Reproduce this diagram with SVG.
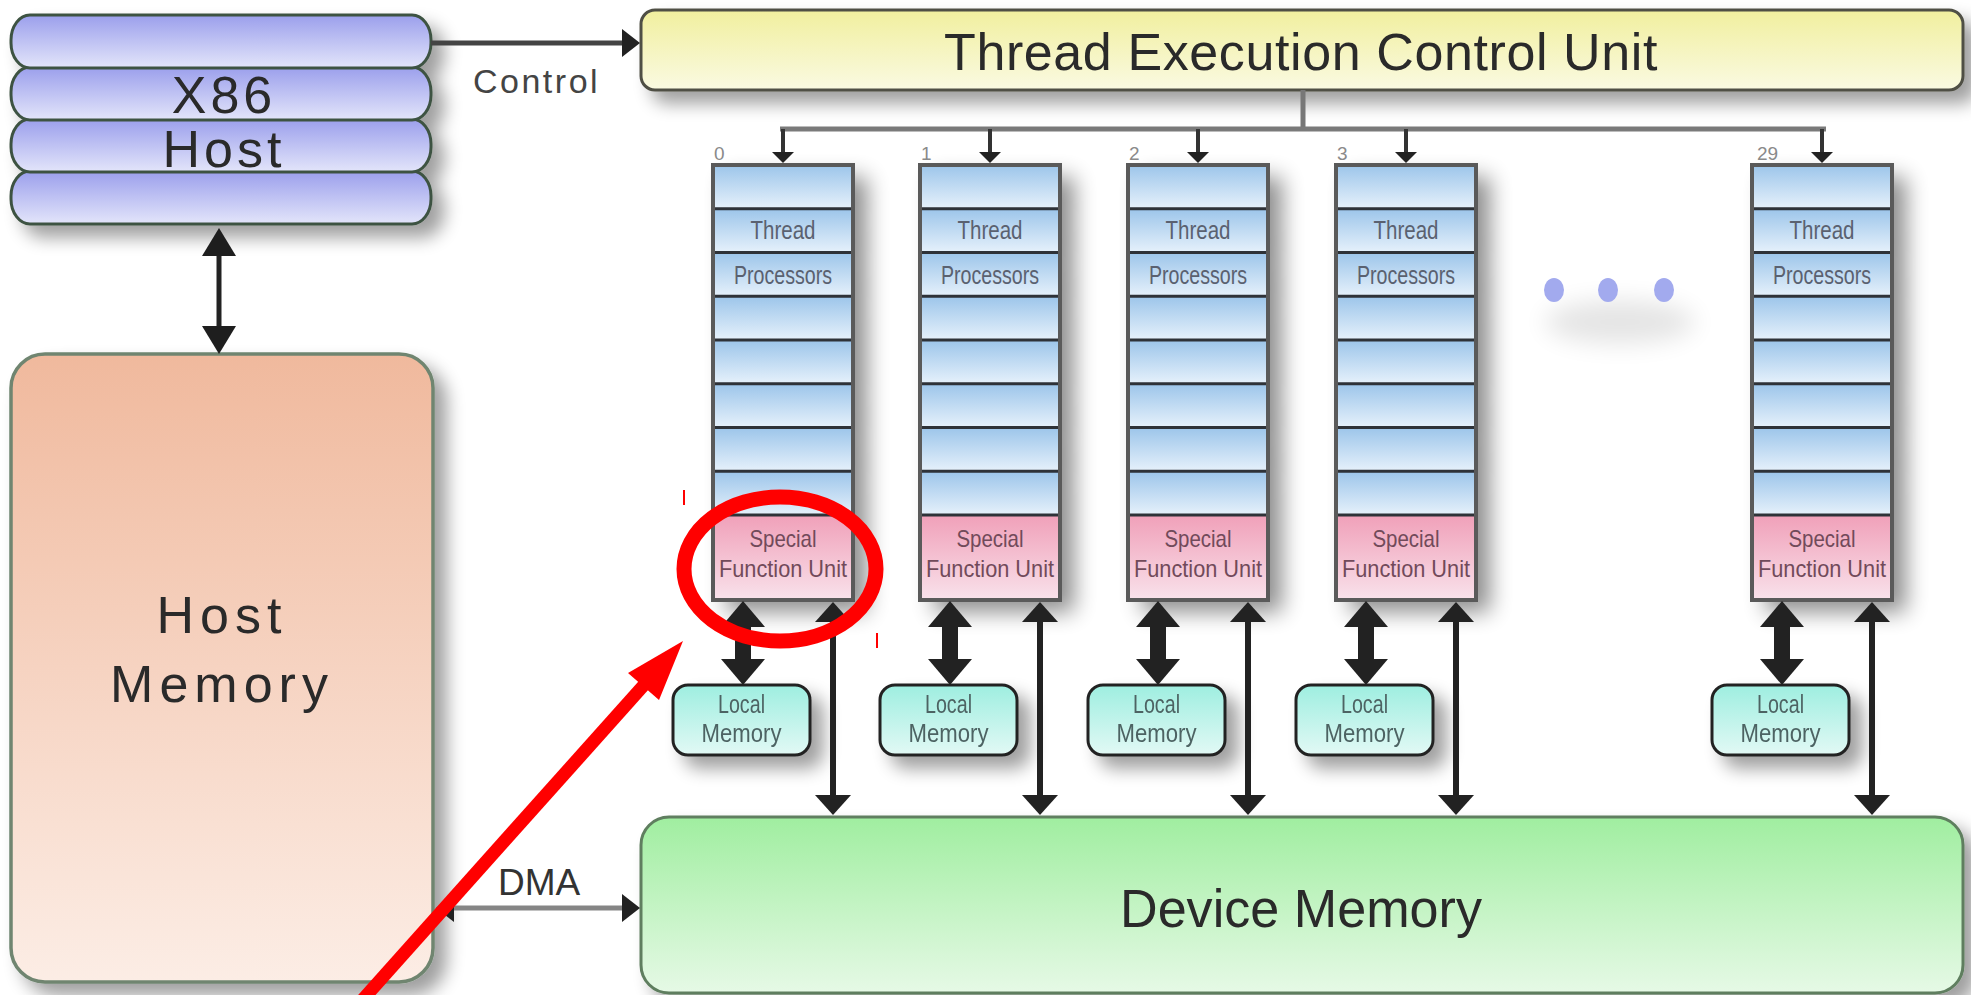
<svg xmlns="http://www.w3.org/2000/svg" width="1971" height="995" viewBox="0 0 1971 995">
<defs>
<linearGradient id="gPill" x1="0" y1="0" x2="0" y2="1"><stop offset="0" stop-color="#9b9fec"/><stop offset="1" stop-color="#e3e5fa"/></linearGradient>
<linearGradient id="gHost" x1="0" y1="0" x2="0" y2="1"><stop offset="0" stop-color="#f0b99d"/><stop offset="1" stop-color="#fcede5"/></linearGradient>
<linearGradient id="gTecu" x1="0" y1="0" x2="0" y2="1"><stop offset="0" stop-color="#f1ef9e"/><stop offset="1" stop-color="#fafae2"/></linearGradient>
<linearGradient id="gDev" x1="0" y1="0" x2="0" y2="1"><stop offset="0" stop-color="#a0eea0"/><stop offset="1" stop-color="#e6f9e6"/></linearGradient>
<linearGradient id="gBlue" x1="0" y1="0" x2="0" y2="1"><stop offset="0" stop-color="#9cc5ea"/><stop offset="1" stop-color="#e6f1fb"/></linearGradient>
<linearGradient id="gPink" x1="0" y1="0" x2="0" y2="1"><stop offset="0" stop-color="#f0a0b9"/><stop offset="1" stop-color="#f9e2eb"/></linearGradient>
<linearGradient id="gLocal" x1="0" y1="0" x2="0" y2="1"><stop offset="0" stop-color="#9eeee0"/><stop offset="1" stop-color="#e2f9f5"/></linearGradient>
<filter id="sh" x="-30%" y="-30%" width="170%" height="180%">
<feGaussianBlur in="SourceAlpha" stdDeviation="9"/>
<feOffset dx="12" dy="12" result="b"/>
<feComponentTransfer><feFuncA type="linear" slope="0.38"/></feComponentTransfer>
<feMerge><feMergeNode/><feMergeNode in="SourceGraphic"/></feMerge>
</filter>
<filter id="shCol" x="-40%" y="-10%" width="190%" height="130%">
<feGaussianBlur in="SourceAlpha" stdDeviation="11"/>
<feOffset dx="14" dy="12" result="b"/>
<feComponentTransfer><feFuncA type="linear" slope="0.45"/></feComponentTransfer>
<feMerge><feMergeNode/><feMergeNode in="SourceGraphic"/></feMerge>
</filter>
<filter id="blur" x="-50%" y="-100%" width="200%" height="300%"><feGaussianBlur stdDeviation="12"/></filter>
<marker id="mCtl" markerUnits="userSpaceOnUse" viewBox="0 0 18 28" markerWidth="18" markerHeight="28" refX="10" refY="14" orient="auto-start-reverse"><path d="M0,0 L18,14 L0,28 z" fill="#222"/></marker>
<marker id="mDrop" markerUnits="userSpaceOnUse" viewBox="0 0 11 22" markerWidth="11" markerHeight="22" refX="6" refY="11" orient="auto"><path d="M0,0 L11,11 L0,22 z" fill="#222"/></marker>
<marker id="mHost" markerUnits="userSpaceOnUse" viewBox="0 0 28 34" markerWidth="28" markerHeight="34" refX="16" refY="17" orient="auto-start-reverse"><path d="M0,0 L28,17 L0,34 z" fill="#1e1e1e"/></marker>
<marker id="mBig" markerUnits="userSpaceOnUse" viewBox="0 0 26 44" markerWidth="26" markerHeight="44" refX="14" refY="22" orient="auto-start-reverse"><path d="M0,0 L26,22 L0,44 z" fill="#222"/></marker>
<marker id="mThin" markerUnits="userSpaceOnUse" viewBox="0 0 20 36" markerWidth="20" markerHeight="36" refX="12" refY="18" orient="auto-start-reverse"><path d="M0,0 L20,18 L0,36 z" fill="#222"/></marker>
</defs>
<style>
text{font-family:"Liberation Sans",Arial,sans-serif}
.pill{fill:url(#gPill);stroke:#3e5242;stroke-width:3}
.big{font-size:52px;fill:#2a2a2a;text-anchor:middle}
.row{fill:url(#gBlue)}
.sfu{fill:url(#gPink)}
.dv{stroke:#2e3238;stroke-width:3}
.frame{fill:none;stroke:#5a5a5a;stroke-width:4}
.tp{font-size:25px;fill:#5a6170;text-anchor:middle}
.ts{font-size:24px;fill:#714a5a;text-anchor:middle}
.lm{fill:url(#gLocal);stroke:#222;stroke-width:3}
.tl{font-size:25px;fill:#4d6363;text-anchor:middle}
.num{font-size:19px;fill:#8a8a8a}
.c{stroke:#222;fill:none}
</style>
<rect width="1971" height="995" fill="#ffffff"/>

<g id="x86-host" filter="url(#sh)">
<rect class="pill" x="11" y="171" width="420" height="53" rx="19" ry="25"/>
<rect class="pill" x="11" y="119" width="420" height="53" rx="19" ry="25"/>
<rect class="pill" x="11" y="67" width="420" height="53" rx="19" ry="25"/>
<rect class="pill" x="11" y="15" width="420" height="53" rx="19" ry="25"/>
<text class="big" x="224" y="113" font-size="50" letter-spacing="4">X86</text>
<text class="big" x="224" y="167" letter-spacing="4">Host</text>
</g>

<g id="host-memory" filter="url(#sh)">
<rect x="11" y="354" width="422" height="628" rx="34" ry="34" fill="url(#gHost)" stroke="#6f8570" stroke-width="3.5"/>
<text class="big" x="222" y="633" letter-spacing="6">Host</text>
<text class="big" x="222" y="702" letter-spacing="6">Memory</text>
</g>

<g id="thread-execution-control-unit" filter="url(#sh)">
<rect x="641" y="10" width="1322" height="80" rx="14" ry="14" fill="url(#gTecu)" stroke="#4f4f45" stroke-width="3"/>
<text class="big" x="1301" y="70" letter-spacing="0.6" fill="#3a3a32">Thread Execution Control Unit</text>
</g>

<g id="device-memory" filter="url(#sh)">
<rect x="641" y="817" width="1322" height="176" rx="28" ry="28" fill="url(#gDev)" stroke="#5e7e5e" stroke-width="3"/>
<text x="1301" y="927" font-size="54" fill="#2a2a2a" text-anchor="middle" textLength="362" lengthAdjust="spacingAndGlyphs">Device Memory</text>
</g>

<g id="tp-0" transform="translate(713,0)">
<g filter="url(#shCol)">
<rect class="row" x="0" y="165" width="140" height="43.75"/><rect class="row" x="0" y="208.75" width="140" height="43.75"/><rect class="row" x="0" y="252.5" width="140" height="43.75"/><rect class="row" x="0" y="296.25" width="140" height="43.75"/><rect class="row" x="0" y="340" width="140" height="43.75"/><rect class="row" x="0" y="383.75" width="140" height="43.75"/><rect class="row" x="0" y="427.5" width="140" height="43.75"/><rect class="row" x="0" y="471.25" width="140" height="43.75"/>
<rect class="sfu" x="0" y="515" width="140" height="85"/>
</g>
<path class="dv" d="M0,208.75H140M0,252.5H140M0,296.25H140M0,340H140M0,383.75H140M0,427.5H140M0,471.25H140M0,515H140"/>
<rect class="frame" x="0" y="165" width="140" height="435"/>
<text class="tp" x="70" y="239" textLength="65" lengthAdjust="spacingAndGlyphs">Thread</text>
<text class="tp" x="70" y="284" textLength="98" lengthAdjust="spacingAndGlyphs">Processors</text>
<text class="ts" x="70" y="547" textLength="67" lengthAdjust="spacingAndGlyphs">Special</text>
<text class="ts" x="70" y="577" textLength="128" lengthAdjust="spacingAndGlyphs">Function Unit</text>
<text class="num" x="1" y="160">0</text>
</g>

<g id="tp-1" transform="translate(920,0)">
<g filter="url(#shCol)">
<rect class="row" x="0" y="165" width="140" height="43.75"/><rect class="row" x="0" y="208.75" width="140" height="43.75"/><rect class="row" x="0" y="252.5" width="140" height="43.75"/><rect class="row" x="0" y="296.25" width="140" height="43.75"/><rect class="row" x="0" y="340" width="140" height="43.75"/><rect class="row" x="0" y="383.75" width="140" height="43.75"/><rect class="row" x="0" y="427.5" width="140" height="43.75"/><rect class="row" x="0" y="471.25" width="140" height="43.75"/>
<rect class="sfu" x="0" y="515" width="140" height="85"/>
</g>
<path class="dv" d="M0,208.75H140M0,252.5H140M0,296.25H140M0,340H140M0,383.75H140M0,427.5H140M0,471.25H140M0,515H140"/>
<rect class="frame" x="0" y="165" width="140" height="435"/>
<text class="tp" x="70" y="239" textLength="65" lengthAdjust="spacingAndGlyphs">Thread</text>
<text class="tp" x="70" y="284" textLength="98" lengthAdjust="spacingAndGlyphs">Processors</text>
<text class="ts" x="70" y="547" textLength="67" lengthAdjust="spacingAndGlyphs">Special</text>
<text class="ts" x="70" y="577" textLength="128" lengthAdjust="spacingAndGlyphs">Function Unit</text>
<text class="num" x="1" y="160">1</text>
</g>

<g id="tp-2" transform="translate(1128,0)">
<g filter="url(#shCol)">
<rect class="row" x="0" y="165" width="140" height="43.75"/><rect class="row" x="0" y="208.75" width="140" height="43.75"/><rect class="row" x="0" y="252.5" width="140" height="43.75"/><rect class="row" x="0" y="296.25" width="140" height="43.75"/><rect class="row" x="0" y="340" width="140" height="43.75"/><rect class="row" x="0" y="383.75" width="140" height="43.75"/><rect class="row" x="0" y="427.5" width="140" height="43.75"/><rect class="row" x="0" y="471.25" width="140" height="43.75"/>
<rect class="sfu" x="0" y="515" width="140" height="85"/>
</g>
<path class="dv" d="M0,208.75H140M0,252.5H140M0,296.25H140M0,340H140M0,383.75H140M0,427.5H140M0,471.25H140M0,515H140"/>
<rect class="frame" x="0" y="165" width="140" height="435"/>
<text class="tp" x="70" y="239" textLength="65" lengthAdjust="spacingAndGlyphs">Thread</text>
<text class="tp" x="70" y="284" textLength="98" lengthAdjust="spacingAndGlyphs">Processors</text>
<text class="ts" x="70" y="547" textLength="67" lengthAdjust="spacingAndGlyphs">Special</text>
<text class="ts" x="70" y="577" textLength="128" lengthAdjust="spacingAndGlyphs">Function Unit</text>
<text class="num" x="1" y="160">2</text>
</g>

<g id="tp-3" transform="translate(1336,0)">
<g filter="url(#shCol)">
<rect class="row" x="0" y="165" width="140" height="43.75"/><rect class="row" x="0" y="208.75" width="140" height="43.75"/><rect class="row" x="0" y="252.5" width="140" height="43.75"/><rect class="row" x="0" y="296.25" width="140" height="43.75"/><rect class="row" x="0" y="340" width="140" height="43.75"/><rect class="row" x="0" y="383.75" width="140" height="43.75"/><rect class="row" x="0" y="427.5" width="140" height="43.75"/><rect class="row" x="0" y="471.25" width="140" height="43.75"/>
<rect class="sfu" x="0" y="515" width="140" height="85"/>
</g>
<path class="dv" d="M0,208.75H140M0,252.5H140M0,296.25H140M0,340H140M0,383.75H140M0,427.5H140M0,471.25H140M0,515H140"/>
<rect class="frame" x="0" y="165" width="140" height="435"/>
<text class="tp" x="70" y="239" textLength="65" lengthAdjust="spacingAndGlyphs">Thread</text>
<text class="tp" x="70" y="284" textLength="98" lengthAdjust="spacingAndGlyphs">Processors</text>
<text class="ts" x="70" y="547" textLength="67" lengthAdjust="spacingAndGlyphs">Special</text>
<text class="ts" x="70" y="577" textLength="128" lengthAdjust="spacingAndGlyphs">Function Unit</text>
<text class="num" x="1" y="160">3</text>
</g>

<g id="tp-29" transform="translate(1752,0)">
<g filter="url(#shCol)">
<rect class="row" x="0" y="165" width="140" height="43.75"/><rect class="row" x="0" y="208.75" width="140" height="43.75"/><rect class="row" x="0" y="252.5" width="140" height="43.75"/><rect class="row" x="0" y="296.25" width="140" height="43.75"/><rect class="row" x="0" y="340" width="140" height="43.75"/><rect class="row" x="0" y="383.75" width="140" height="43.75"/><rect class="row" x="0" y="427.5" width="140" height="43.75"/><rect class="row" x="0" y="471.25" width="140" height="43.75"/>
<rect class="sfu" x="0" y="515" width="140" height="85"/>
</g>
<path class="dv" d="M0,208.75H140M0,252.5H140M0,296.25H140M0,340H140M0,383.75H140M0,427.5H140M0,471.25H140M0,515H140"/>
<rect class="frame" x="0" y="165" width="140" height="435"/>
<text class="tp" x="70" y="239" textLength="65" lengthAdjust="spacingAndGlyphs">Thread</text>
<text class="tp" x="70" y="284" textLength="98" lengthAdjust="spacingAndGlyphs">Processors</text>
<text class="ts" x="70" y="547" textLength="67" lengthAdjust="spacingAndGlyphs">Special</text>
<text class="ts" x="70" y="577" textLength="128" lengthAdjust="spacingAndGlyphs">Function Unit</text>
<text class="num" x="5" y="160">29</text>
</g>

<g id="local-memory-0" filter="url(#sh)"><rect class="lm" x="673" y="685" width="137" height="70" rx="15"/><text class="tl" x="741.5" y="713" textLength="47" lengthAdjust="spacingAndGlyphs">Local</text><text class="tl" x="741.5" y="742" textLength="80" lengthAdjust="spacingAndGlyphs">Memory</text></g>
<g id="local-memory-1" filter="url(#sh)"><rect class="lm" x="880" y="685" width="137" height="70" rx="15"/><text class="tl" x="948.5" y="713" textLength="47" lengthAdjust="spacingAndGlyphs">Local</text><text class="tl" x="948.5" y="742" textLength="80" lengthAdjust="spacingAndGlyphs">Memory</text></g>
<g id="local-memory-2" filter="url(#sh)"><rect class="lm" x="1088" y="685" width="137" height="70" rx="15"/><text class="tl" x="1156.5" y="713" textLength="47" lengthAdjust="spacingAndGlyphs">Local</text><text class="tl" x="1156.5" y="742" textLength="80" lengthAdjust="spacingAndGlyphs">Memory</text></g>
<g id="local-memory-3" filter="url(#sh)"><rect class="lm" x="1296" y="685" width="137" height="70" rx="15"/><text class="tl" x="1364.5" y="713" textLength="47" lengthAdjust="spacingAndGlyphs">Local</text><text class="tl" x="1364.5" y="742" textLength="80" lengthAdjust="spacingAndGlyphs">Memory</text></g>
<g id="local-memory-29" filter="url(#sh)"><rect class="lm" x="1712" y="685" width="137" height="70" rx="15"/><text class="tl" x="1780.5" y="713" textLength="47" lengthAdjust="spacingAndGlyphs">Local</text><text class="tl" x="1780.5" y="742" textLength="80" lengthAdjust="spacingAndGlyphs">Memory</text></g>

<g id="ellipsis">
<ellipse cx="1620" cy="322" rx="75" ry="22" fill="#000" opacity="0.1" filter="url(#blur)"/>
<ellipse cx="1554" cy="290" rx="10" ry="12" fill="#a2aaee"/>
<ellipse cx="1608" cy="290" rx="10" ry="12" fill="#a2aaee"/>
<ellipse cx="1664" cy="290" rx="10" ry="12" fill="#a2aaee"/>
</g>

<g id="connectors">
<line x1="431" y1="43" x2="632" y2="43" stroke="#444" stroke-width="5" marker-end="url(#mCtl)"/>
<text x="473" y="93" font-size="34" fill="#444" letter-spacing="2.5">Control</text>
<line x1="1303" y1="90" x2="1303" y2="129" stroke="#777" stroke-width="5"/>
<line x1="780" y1="129" x2="1826" y2="129" stroke="#7a7a7a" stroke-width="5"/>
<line x1="783" y1="129" x2="783" y2="158" stroke="#333" stroke-width="4" marker-end="url(#mDrop)"/>
<line x1="990" y1="129" x2="990" y2="158" stroke="#333" stroke-width="4" marker-end="url(#mDrop)"/>
<line x1="1198" y1="129" x2="1198" y2="158" stroke="#333" stroke-width="4" marker-end="url(#mDrop)"/>
<line x1="1406" y1="129" x2="1406" y2="158" stroke="#333" stroke-width="4" marker-end="url(#mDrop)"/>
<line x1="1822" y1="129" x2="1822" y2="158" stroke="#333" stroke-width="4" marker-end="url(#mDrop)"/>
<line class="c" x1="219" y1="240" x2="219" y2="342" stroke-width="5" marker-start="url(#mHost)" marker-end="url(#mHost)"/>
<line class="c" x1="743" y1="613" x2="743" y2="673" stroke-width="16" marker-start="url(#mBig)" marker-end="url(#mBig)"/>
<line class="c" x1="950" y1="613" x2="950" y2="673" stroke-width="16" marker-start="url(#mBig)" marker-end="url(#mBig)"/>
<line class="c" x1="1158" y1="613" x2="1158" y2="673" stroke-width="16" marker-start="url(#mBig)" marker-end="url(#mBig)"/>
<line class="c" x1="1366" y1="613" x2="1366" y2="673" stroke-width="16" marker-start="url(#mBig)" marker-end="url(#mBig)"/>
<line class="c" x1="1782" y1="613" x2="1782" y2="673" stroke-width="16" marker-start="url(#mBig)" marker-end="url(#mBig)"/>
<line class="c" x1="833" y1="610" x2="833" y2="807" stroke-width="6" marker-start="url(#mThin)" marker-end="url(#mThin)"/>
<line class="c" x1="1040" y1="610" x2="1040" y2="807" stroke-width="6" marker-start="url(#mThin)" marker-end="url(#mThin)"/>
<line class="c" x1="1248" y1="610" x2="1248" y2="807" stroke-width="6" marker-start="url(#mThin)" marker-end="url(#mThin)"/>
<line class="c" x1="1456" y1="610" x2="1456" y2="807" stroke-width="6" marker-start="url(#mThin)" marker-end="url(#mThin)"/>
<line class="c" x1="1872" y1="610" x2="1872" y2="807" stroke-width="6" marker-start="url(#mThin)" marker-end="url(#mThin)"/>
<line x1="444" y1="908" x2="632" y2="908" stroke="#858585" stroke-width="5" marker-start="url(#mCtl)" marker-end="url(#mCtl)"/>
<text x="498" y="895" font-size="37" fill="#333">DMA</text>
</g>

<g id="annotation">
<ellipse cx="780" cy="569" rx="96" ry="72" fill="none" stroke="#ff0000" stroke-width="15"/>
<line x1="357" y1="1006" x2="652" y2="676" stroke="#ff0000" stroke-width="13"/>
<polygon points="683,641 628,673 659,700" fill="#ff0000"/>
<line x1="684" y1="490" x2="684" y2="505" stroke="#ff0000" stroke-width="2"/>
<line x1="877" y1="633" x2="877" y2="648" stroke="#ff0000" stroke-width="2"/>
</g>
</svg>
